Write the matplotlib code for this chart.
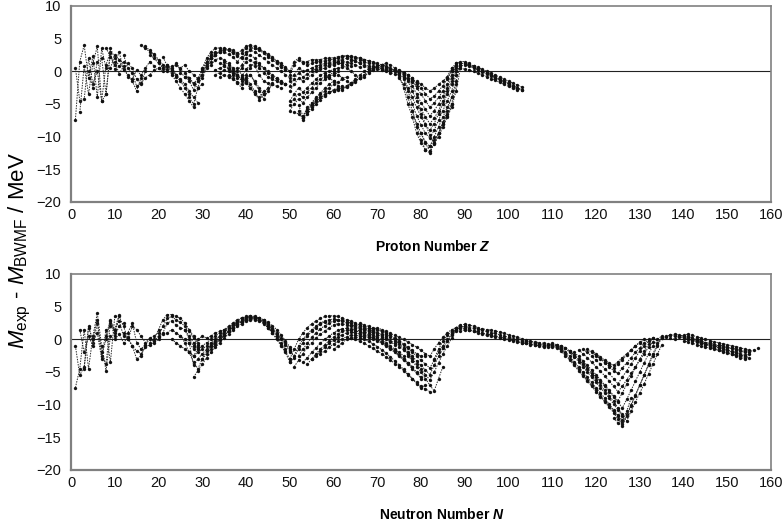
import matplotlib
matplotlib.use("Agg")
import matplotlib.pyplot as plt
import numpy as np

plt.rcParams['font.family'] = ['Liberation Sans', 'DejaVu Sans']
plt.rcParams['mathtext.fontset'] = 'custom'
plt.rcParams['mathtext.rm'] = 'Liberation Sans'
plt.rcParams['mathtext.it'] = 'Liberation Sans:italic'
plt.rcParams['mathtext.bf'] = 'Liberation Sans:bold'
plt.rcParams['mathtext.bfit'] = 'Liberation Sans:italic:bold'

# mass residuals M_exp - M_BWMF (MeV); each chain is (first x, [values at x, x+1, ...])
# ---- against proton number Z ----
z_light = [
    (1, [-7.4, 1.5, 4.0, -1.0, 2.3, -4.0, 3.5, 0.5]),
    (1, [0.5, -4.5, -4.3, 2.0, -2.0, 0.0, -4.5, 1.0, 3.0]),
    (2, [-6.3, 0.8, -3.5, 1.2, 3.8, -4.6, -3.5, 2.8, 0.3]),
    (4, [0.0, -2.5, 1.5, 2.0, -3.5, 3.5, 2.0, 0.8, 1.5]),
    (8, [3.6, 2.2, 1.0, 3.0, 0.2, -0.5, -1.5, -3.0, -1.0]),
    (9, [0.5, 2.5, 1.8, 0.3, 1.2, 0.5, -1.2, -2.0, 0.0]),
    (10, [1.5, -0.4, 0.8, -0.8, -1.2, 0.2, -0.6, 0.5, 1.5, 0.8]),
    (12, [2.5, 0.5, -0.3, -2.3, -1.8, -1.0, -0.5, 0.2, 0.5]),
]
z_sd = [
    (16, [4.0, 3.5, 3.0, 2.5, 1.5, 0.5, 0.0]),
    (17, [3.8, 3.2, 2.6, 1.8, 1.0, 0.3, -0.3]),
    (18, [2.5, 2.0, 1.2, 0.5, 0.8, 0.2, -0.5]),
    (21, [2.2, 0.8, -0.5, -1.5, -2.5, -3.5, -4.5, -5.5]),
    (22, [1.0, 0.5, -0.5, -1.2, -2.0, -3.0, -4.0, -4.8]),
    (20, [0.5, 0.0, 1.0, 0.2, -0.8, -1.5, -2.5, -3.5]),
    (23, [0.8, 1.0, 0.3, -0.3, -1.0, -1.8, -2.5, -2.0]),
    (24, [1.2, 0.5, 1.0, 0.0, -0.5, -1.2, -0.5, 1.0]),
    (27, [-4.0, -5.0, -2.5, -0.5, 1.2, 2.5, 3.0]),
    (26, [-0.8, -1.5, -2.8, -1.5, 0.0, 1.5, 2.5]),
    (25, [-0.2, -0.8, -1.0, -2.0, -1.0, 0.3, 1.5, 2.0]),
]
z_mid = [
    (30, [0.5, 2.0, 3.0, 3.5, 3.6, 3.5, 3.4, 3.2, 2.8, 3.2, 3.8, 4.0, 3.8,
          3.5, 3.0, 2.5, 2.0, 1.5, 1.0, 0.5, 0.0]),
    (31, [0.8, 2.0, 2.8, 3.0, 3.0, 2.6, 2.2, 1.5, 2.2, 3.0, 3.2, 3.0, 2.5,
          2.0, 1.5, 1.0, 0.5, 0.0, -0.5, -1.0]),
    (32, [1.0, 1.8, 2.0, 1.8, 1.2, 0.5, 0.0, 1.0, 2.0, 2.5, 2.0, 1.0, 0.5,
          0.0, -0.5, -1.0, -1.5, -2.0]),
    (33, [0.2, 0.5, 0.8, 0.3, -0.5, -1.0, -0.8, 0.3, 1.0, 0.8, -0.5, -1.5,
          -1.8, -2.0, -2.3, -2.5]),
    (34, [-0.8, -0.5, -0.8, -1.2, -1.6, -2.0, -1.0, -0.5, -1.8, -3.0, -4.2,
          -3.0, -2.0]),
    (38, [0.5, -0.5, -1.5, -2.5, -3.3, -4.4, -3.5]),
    (35, [1.5, 1.0, 0.3, -0.5, -1.5, -1.0, -2.0, -3.0]),
    (30, [-1.0, 0.5, 1.5, 2.5, 3.0, 3.2, 3.3, 3.0, 2.5, 2.8, 3.5, 3.8, 3.5,
          3.2, 2.8, 2.2, 1.8, 1.2, 0.6, 0.2]),
    (32, [2.0, 2.5, 3.2, 3.4, 3.2, 2.8, 2.4, 2.0, 2.6, 3.4, 3.6, 3.4, 3.0,
          2.6, 2.2, 1.6, 1.2, 0.6, 0.0]),
    (33, [-0.5, -0.2, 0.2, 0.0, -0.3, -0.6, -1.2, -0.5, 0.5, 1.5, 1.2, 0.5,
          -0.2, -0.8, -1.2, -1.6, -2.0]),
    (36, [-0.5, -1.0, -1.8, -2.5, -1.5, -0.5, -1.5, -2.5, -3.5, -2.5, -1.8]),
    (34, [1.2, 1.0, 0.5, 0.0, -0.5, 0.5, 1.5, 1.8, 1.2, 0.5, -0.2, -0.8,
          -1.2, -1.5, -1.8, -2.0]),
    (39, [-1.0, -1.8, -2.6, -3.4, -4.0, -3.0]),
]
z_heavy = [
    (50, [-0.5, 1.0, 1.8, 1.5, 1.0, 1.2, 1.5, 1.5, 1.6, 1.8, 1.8, 2.0, 2.2,
          2.3, 2.2, 2.0, 1.8, 1.5, 1.2]),
    (50, [-1.5, -0.5, 0.5, 0.0, 0.2, 0.5, 0.8, 1.0, 1.2, 1.3, 1.5, 1.6, 1.8,
          2.0, 1.8, 1.6, 1.2]),
    (50, [-3.0, -2.0, -1.0, -1.5, -1.0, -0.5, 0.0, 0.3, 0.5, 0.8, 1.0, 1.2,
          1.2, 1.0, 0.8]),
    (50, [-4.5, -3.5, -2.5, -3.2, -2.5, -1.8, -1.2, -0.6, -0.2, 0.0, 0.3,
          0.5, 0.6]),
    (50, [-6.0, -5.0, -4.2, -4.8, -4.0, -3.2, -2.5, -1.8, -1.2, -0.8, -0.5]),
    (51, [-6.3, -6.5, -7.0, -5.5, -4.8, -4.0, -3.3, -2.6, -2.0, -1.5]),
    (52, [-6.0, -7.5, -6.5, -5.8, -5.0, -4.4, -3.8, -3.2, -2.8, -2.5, -2.2]),
    (54, [-6.2, -5.5, -4.6, -4.0, -3.6, -3.2, -3.0, -2.8, -2.6, -2.3, -2.0,
          -1.6, -1.0]),
    (60, [0.0, -0.5, -1.0, -1.5, -2.0, -1.5, -1.0, -0.5, 0.0, 0.5, 0.8, 1.0,
          0.8, 0.5, 0.0, -0.3]),
    (62, [1.0, 0.5, 0.0, -0.5, -1.0, -0.8, -0.2, 0.3, 0.8, 1.0, 1.2, 1.0,
          0.5, 0.2, -0.2]),
    (66, [2.0, 1.8, 1.6, 1.4, 1.2, 1.0, 0.7, 0.4, 0.2, 0.0, -0.3, -0.6, -1.0]),
    (67, [1.0, 0.8, 0.8, 0.6, 0.5, 0.3, 0.1, 0.0, -0.3, -0.6, -1.0, -1.3, -1.8]),
    (68, [0.0, 0.2, 0.3, 0.2, 0.0, -0.2, -0.4, -0.6, -0.9, -1.2, -1.6, -2.2]),
    (50, [0.0, 1.5, 2.0, 1.2, 1.5, 1.8, 1.8, 1.8, 2.0, 2.0, 2.1, 2.2, 2.4,
          2.4, 2.3, 2.2, 2.0, 1.8, 1.6, 1.3, 1.0]),
    (50, [-2.2, -1.2, -0.2, -0.8, -0.4, 0.0, 0.4, 0.6, 0.9, 1.0, 1.2, 1.4,
          1.5, 1.4, 1.2, 1.0, 0.6]),
    (50, [-5.2, -4.2, -3.4, -4.0, -3.2, -2.5, -1.8, -1.2, -0.8, -0.5, -0.2, 0.0]),
    (52, [-5.2, -6.8, -5.8, -5.0, -4.2, -3.5, -3.0, -2.5, -2.0, -1.6, -1.2, -0.8]),
    (53, [-7.2, -6.0, -5.2, -4.5, -4.0, -3.5, -3.2, -3.0, -2.7, -2.5, -2.2,
          -1.8, -1.4]),
    (58, [-0.5, -1.0, -1.5, -2.2, -2.8, -2.4, -1.8, -1.2, -0.6, 0.0, 0.4,
          0.6, 0.6, 0.4, 0.2, 0.0]),
    (64, [1.8, 1.6, 1.2, 0.8, 0.5, 0.4, 0.6, 0.8, 0.6, 0.4, 0.2, 0.0, -0.3, -0.6]),
]
z_pb = [
    (75, [-0.8, -2.5, -5.0, -7.0, -9.5, -11.0, -12.0, -12.5, -11.0, -10.0,
          -8.5, -7.0, -5.5, -3.0, 0.5]),
    (75, [-1.0, -2.0, -4.0, -6.0, -8.0, -9.5, -10.8, -11.5, -10.0, -8.5,
          -7.0, -5.5, -4.0, -1.5, 1.0]),
    (76, [-1.2, -3.0, -5.0, -6.8, -8.2, -9.5, -10.2, -9.0, -7.5, -6.0, -4.5,
          -3.0, -0.5, 1.2]),
    (76, [-1.0, -2.5, -4.0, -5.5, -7.0, -8.2, -9.0, -8.0, -6.5, -5.0, -3.5,
          -2.0, 0.0]),
    (77, [-1.5, -3.0, -4.5, -5.8, -7.0, -8.0, -7.2, -6.0, -4.5, -3.0, -1.5, 0.5]),
    (77, [-1.2, -2.2, -3.5, -4.8, -5.8, -6.8, -6.0, -5.0, -3.8, -2.5, -1.0, 1.0]),
    (78, [-1.5, -2.5, -3.5, -4.5, -5.5, -4.8, -4.0, -3.0, -2.0, -0.5, 1.2]),
    (78, [-1.0, -1.8, -2.6, -3.4, -4.2, -3.8, -3.0, -2.2, -1.2, 0.0]),
    (79, [-1.5, -2.0, -2.5, -3.0, -2.6, -2.0, -1.5, -0.8, 0.5]),
    (78, [-6.0, -8.5, -10.5, -12.0, -11.5, -10.5, -9.5, -8.0, -6.5, -5.0]),
    (80, [-9.5, -11.0, -12.2, -11.2, -9.5, -7.8, -6.0, -4.0]),
    (79, [-4.0, -6.5, -8.0, -9.8, -11.0, -9.5, -8.0, -6.8, -5.0, -2.0]),
    (87, [0.5, 1.2, 1.5, 1.5, 1.2, 0.8, 0.5, 0.2, -0.2, -0.5, -0.8, -1.2, -1.5,
          -1.8, -2.2, -2.5, -2.8]),
    (88, [0.0, 0.8, 1.0, 0.8, 0.5, 0.2, -0.1, -0.4, -0.7, -1.0, -1.3, -1.6,
          -2.0, -2.3, -2.6, -2.9]),
    (89, [0.5, 0.3, 0.2, 0.0, -0.3, -0.5, -0.8, -1.1, -1.4, -1.7, -2.0, -2.3,
          -2.6, -2.8]),
    (90, [1.2, 1.0, 0.8, 0.6, 0.3, 0.0, -0.3, -0.6, -0.9, -1.2, -1.5, -1.8,
          -2.1, -2.4]),
    (86, [-1.0, 0.2, 0.8, 1.2, 1.2, 1.0, 0.6, 0.3, 0.0, -0.3, -0.6, -1.0,
          -1.3, -1.6, -1.9, -2.2]),
]

# ---- against neutron number N ----
n_light = [
    (1, [-7.4, -4.5, 1.5, -4.5, 0.5, 4.0, -1.0, -4.8, 0.5]),
    (1, [-1.0, -5.5, -4.2, 2.0, -0.5, 1.0, -3.0, 1.5, -3.5, 3.5]),
    (2, [1.5, -2.0, 0.5, -1.0, 2.5, -2.5, 0.0, 2.8, 1.5, 3.8]),
    (3, [-4.5, 1.8, 0.0, 3.0, -2.0, -3.8, 2.5, 0.5, 2.0, 2.5]),
    (8, [0.5, 3.0, 1.0, 3.5, 2.0, 0.0, -1.0, -3.0, -2.5, -1.0]),
    (9, [2.0, 1.5, 2.8, 0.5, 1.0, 2.5, -0.5, -1.5, -0.8, 0.0]),
    (10, [0.0, 0.8, -0.5, 0.3, -1.0, -1.8, -2.2, -1.2, -0.8, -0.5, 0.0]),
    (12, [1.0, 0.0, 2.0, 1.5, 0.5, -0.5, 0.2, 0.5, 1.0, 0.8]),
]
n_sd = [
    (18, [-0.5, 0.0, 1.5, 3.0, 3.8, 3.8, 3.5, 3.2, 2.5, 1.5, 0.5, -0.5]),
    (19, [-0.3, 0.5, 2.0, 3.2, 3.5, 3.0, 2.6, 2.0, 1.2, 0.2, -0.8]),
    (20, [0.3, 1.0, 2.5, 2.8, 2.2, 1.8, 1.5, 0.5, -0.5, -1.2]),
    (22, [1.0, 1.5, 1.0, 0.5, 0.0, -0.5, -1.5]),
    (23, [0.0, -0.5, -1.0, -1.5, -2.0, -2.5, -1.5]),
]
n_mid = [
    (28, [-5.8, -4.8, -3.8, -2.8, -2.0, -1.2, -0.5, 0.2, 0.8, 1.4, 2.0, 2.4,
          2.8, 3.0, 3.0, 2.8, 2.4, 1.8, 1.0, 0.2, -0.8, -1.8, -3.0]),
    (27, [-0.5, -4.0, -3.0, -2.2, -1.5, -0.8, -0.2, 0.5, 1.0, 1.6, 2.2, 2.6,
          3.0, 3.3, 3.4, 3.3, 3.0, 2.5, 1.8, 1.0, 0.0, -1.0, -2.0, -3.5]),
    (26, [1.5, 0.0, -1.0, -1.5, -1.0, -0.5, 0.0, 0.5, 1.0, 1.5, 2.0, 2.5,
          3.0, 3.3, 3.5, 3.6, 3.5, 3.2, 2.8, 2.2, 1.5, 0.5, -0.5, -1.5]),
    (27, [-2.0, -2.5, -2.0, -1.5, -1.0, -0.5, 0.0, 0.5, 1.2, 1.8, 2.3, 2.8,
          3.2, 3.4, 3.5, 3.4, 3.1, 2.6, 2.0, 1.2]),
    (28, [-1.0, 0.0, 0.5, 0.2, 0.5, 1.0, 1.2, 1.5, 1.8, 2.2, 2.6]),
    (25, [0.5, -0.5, -2.0, -3.5, -4.5, -3.0, -1.8, -1.0, -0.5, 0.0, 0.6, 1.2]),
    (32, [-1.0, -0.5, 0.0, 0.6, 1.2, 1.8, 2.3, 2.7, 3.0, 3.2, 3.3, 3.2, 2.9,
          2.4, 1.8, 1.0, 0.2, -0.6, -1.5]),
    (34, [0.0, 0.7, 1.3, 1.9, 2.4, 2.8, 3.1, 3.3, 3.4, 3.3, 3.0, 2.6, 2.1,
          1.5, 0.7, -0.2, -1.2]),
    (30, [-3.0, -2.2, -1.5, -0.8, -0.1, 0.6, 1.2, 1.8, 2.3, 2.7, 3.0, 3.2,
          3.2, 3.0, 2.7, 2.2, 1.6, 0.8, 0.0, -0.8, -1.8]),
]
n_rare = [
    (50, [-3.0, -1.5, 0.0, 1.0, 1.8, 2.4, 2.8, 3.2, 3.5, 3.6, 3.6, 3.5, 3.2,
          3.0, 2.8, 2.5, 2.2, 2.0, 1.8, 1.6, 1.4, 1.2]),
    (50, [-3.5, -2.8, -1.5, -0.5, 0.5, 1.2, 1.8, 2.3, 2.7, 3.0, 3.1, 3.0,
          2.8, 2.5, 2.2, 2.0, 1.8, 1.6, 1.4, 1.2, 1.0, 0.8, 0.5]),
    (51, [-4.2, -3.2, -2.2, -1.2, -0.5, 0.2, 0.8, 1.3, 1.8, 2.2, 2.4, 2.4,
          2.2, 2.0, 1.8, 1.6, 1.4, 1.2, 1.0, 0.7, 0.4, 0.0, -0.4, -0.8]),
    (53, [-3.5, -2.8, -2.0, -1.3, -0.6, 0.0, 0.5, 1.0, 1.4, 1.6, 1.7, 1.6,
          1.5, 1.3, 1.1, 0.9, 0.6, 0.3, 0.0, -0.5, -1.0, -1.5, -2.0, -2.5]),
    (55, [-3.0, -2.5, -1.8, -1.2, -0.6, -0.1, 0.3, 0.7, 1.0, 1.1, 1.0, 0.8,
          0.6, 0.4, 0.2, 0.0, -0.4, -0.8, -1.3, -1.8, -2.4, -3.0, -3.6, -4.2]),
    (57, [-2.2, -1.8, -1.2, -0.7, -0.3, 0.1, 0.4, 0.6, 0.6, 0.5, 0.4, 0.3,
          0.1, -0.2, -0.6, -1.0, -1.5, -2.0, -2.6, -3.2, -3.8, -4.5, -5.2, -6.0]),
    (64, [0.2, 0.0, -0.3, -0.6, -1.0, -1.4, -1.8, -2.2, -2.7, -3.2, -3.7,
          -4.2, -4.8, -5.4, -6.0, -6.6, -7.2, -7.6, -8.0]),
    (50, [-2.0, -2.5, -1.0, 0.0, 0.8, 1.5, 2.0, 2.5, 2.8]),
    (52, [-2.5, -1.5, -0.6, 0.3, 1.0, 1.6, 2.1, 2.5, 2.8, 2.9, 2.9, 2.7, 2.5,
          2.3, 2.0, 1.8, 1.6, 1.3, 1.0, 0.6, 0.2, -0.2, -0.6, -1.1, -1.6,
          -2.2, -2.8]),
    (54, [-3.8, -3.0, -2.2, -1.5, -0.8, -0.2, 0.3, 0.8, 1.2, 1.4, 1.4, 1.3,
          1.1, 0.9, 0.6, 0.3, 0.0, -0.4, -0.8, -1.3, -1.8, -2.4, -3.0, -3.6,
          -4.3, -5.0, -5.8]),
    (60, [-1.5, -1.0, -0.5, 0.0, 0.2, 0.3, 0.2, 0.0, -0.3, -0.7, -1.1, -1.6,
          -2.1, -2.7, -3.3, -3.9, -4.6, -5.3, -6.0, -6.8, -7.5, -7.0]),
    (66, [2.5, 2.2, 2.0, 1.8, 1.6, 1.3, 1.0, 0.6, 0.2, -0.2, -0.7, -1.2,
          -1.7, -2.2, -2.6, -2.5]),
]
n_heavy = [
    (70, [1.8, 1.5, 1.2, 0.9, 0.6, 0.3, 0.0, -0.4, -0.8, -1.2, -1.7, -2.2,
          -2.6, -1.5, -0.5, 0.3, 1.0, 1.5, 1.8, 2.0, 1.8]),
    (72, [0.8, 0.4, 0.0, -0.4, -0.9, -1.4, -2.0, -2.6, -3.2, -3.8, -4.4,
          -3.2, -2.0, -1.0, 0.0, 0.8, 1.4, 1.7]),
    (74, [-0.2, -0.7, -1.3, -1.9, -2.6, -3.3, -4.0, -4.7, -5.4, -4.0, -2.6,
          -1.4, -0.3, 0.6, 1.2]),
    (76, [-1.5, -2.2, -3.0, -3.8, -4.6, -5.4, -6.2, -5.0, -3.6, -2.2, -1.0, 0.2]),
    (77, [-2.5, -3.3, -4.2, -5.0, -6.0, -7.0, -7.9, -6.0, -4.2]),
    (83, [-3.0, -1.5, -0.3, 0.6, 1.2, 1.6, 1.9, 2.0]),
    (88, [1.8, 2.2, 2.3, 2.2, 2.0, 1.8, 1.6, 1.5, 1.4, 1.3, 1.1, 0.9, 0.7,
          0.5, 0.3, 0.1, -0.1, -0.3, -0.4, -0.5, -0.6, -0.7, -0.8, -0.9, -1.0]),
    (87, [1.0, 1.5, 1.8, 1.6, 1.5, 1.3, 1.2, 1.0, 0.8, 0.7, 0.5, 0.4, 0.2,
          0.0, -0.1, -0.3, -0.5, -0.6, -0.7, -0.8, -0.9, -1.0, -1.1, -1.2,
          -1.3, -1.4]),
    (89, [1.2, 1.5, 1.4, 1.2, 1.0, 0.8, 0.6, 0.5, 0.4, 0.2, 0.0, -0.1, -0.2,
          -0.4, -0.5, -0.6, -0.8, -0.9, -1.0, -1.2]),
    (90, [2.0, 1.8, 1.7, 1.6, 1.4, 1.2, 1.0, 0.9, 0.7, 0.5, 0.3, 0.1, 0.0,
          -0.2, -0.3, -0.4, -0.6, -0.7, -0.8, -0.9, -1.0, -1.1]),
]
n_pb = [
    (110, [-0.8, -1.0, -1.5, -2.2, -3.0, -3.8, -4.6, -5.4, -6.2, -7.0, -7.8,
           -8.6, -9.4, -10.2, -11.0, -11.8, -12.6, -11.0, -9.0]),
    (111, [-1.2, -1.8, -2.5, -3.2, -4.0, -4.8, -5.6, -6.4, -7.2, -8.0, -8.8,
           -9.6, -10.4, -11.2, -12.2, -13.0, -11.5, -10.0, -8.5, -7.0, -5.5,
           -4.0, -2.5, -1.0, 0.2]),
    (114, [-1.8, -2.4, -3.0, -3.7, -4.4, -5.1, -5.8, -6.5, -7.2, -8.0, -8.8,
           -9.6, -10.5, -9.2, -7.8, -6.4, -5.0, -3.6, -2.2, -1.0, 0.0, 0.5]),
    (117, [-1.5, -2.0, -2.6, -3.2, -3.8, -4.5, -5.2, -6.0, -6.8, -5.8, -4.8,
           -3.8, -2.8, -1.8, -1.0, -0.3, 0.2]),
    (118, [-1.5, -2.0, -2.5, -3.0, -3.6, -4.2, -4.8, -5.2, -4.4, -3.6, -2.8,
           -2.0, -1.3, -0.6, 0.0]),
    (119, [-1.8, -2.2, -2.7, -3.2, -3.6, -4.0, -3.4, -2.8, -2.2, -1.6, -1.0,
           -0.5, 0.0]),
    (112, [-1.0, -1.3, -1.8, -2.4, -3.1, -3.8, -4.6, -5.4, -6.2, -7.0, -7.8,
           -8.6, -9.5, -10.5, -11.5]),
    (124, [-12.0, -12.8, -13.2, -11.8, -10.2, -8.6, -7.0, -5.4, -3.8, -2.2,
           -0.8, 0.3]),
    (113, [-1.4, -2.0, -2.7, -3.4, -4.2, -5.0, -5.8, -6.6, -7.4, -8.2, -9.0,
           -9.9, -10.8, -11.8, -12.5, -11.0, -9.6, -8.2, -6.8, -5.3, -3.8,
           -2.3, -0.9]),
    (115, [-2.0, -2.6, -3.3, -4.0, -4.7, -5.4, -6.2, -7.0, -7.8, -8.6, -9.4,
           -8.2, -6.9, -5.6, -4.3, -3.0, -1.8, -0.7, 0.2]),
    (116, [-1.6, -2.2, -2.8, -3.5, -4.2, -4.9, -5.6, -6.4, -7.2, -8.0, -7.2,
           -6.2, -5.2, -4.2, -3.2, -2.2, -1.2, -0.4]),
    (110, [-0.5, -0.9, -1.3, -1.9, -2.6, -3.4, -4.2, -5.0, -5.8, -6.6, -7.4,
           -8.2, -9.0, -9.9, -10.8, -11.6, -12.4]),
    (120, [-2.4, -2.9, -3.4, -3.9, -4.4, -3.8, -3.1, -2.4, -1.7, -1.0, -0.4]),
]
n_act = [
    (134, [-0.5, 0.2, 0.5, 0.6, 0.5, 0.5, 0.6, 0.8, 0.6, 0.4, 0.2, 0.0, -0.2,
           -0.4, -0.5, -0.7, -0.8, -1.0, -1.1, -1.3, -1.5, -1.7]),
    (137, [0.2, 0.0, 0.3, 0.2, 0.0, -0.2, -0.4, -0.5, -0.7, -0.9, -1.0, -1.2,
           -1.4, -1.6, -1.8, -2.0, -2.2, -2.4, -2.3]),
    (140, [-0.2, -0.4, -0.6, -0.8, -1.0, -1.2, -1.3, -1.5, -1.7, -1.9, -2.1,
           -2.3, -2.5, -2.8, -3.0]),
    (141, [0.5, 0.2, 0.0, -0.3, -0.5, -0.6, -0.8, -0.9, -1.0, -1.2, -1.3,
           -1.5, -1.6, -1.8, -2.0, -1.6]),
    (136, [0.4, 0.6, 0.8, 0.7, 0.5, 0.3, 0.1, -0.1, -0.3, -0.5, -0.6, -0.8,
           -1.0, -1.1, -1.3, -1.4, -1.6, -1.8, -2.0]),
    (139, [0.5, 0.3, 0.1, -0.1, -0.3, -0.5, -0.7, -0.9, -1.1, -1.3, -1.5,
           -1.7, -1.9, -2.1, -2.4, -2.6, -2.8]),
    (142, [0.2, -0.2, -0.5, -0.8, -1.1, -1.4, -1.6, -1.8, -2.0, -2.2, -2.4,
           -2.6, -2.8]),
    (157, [-1.4]),
]

x_ticks = np.arange(0, 161, 10)
y_ticks = np.arange(-20, 11, 5)


def draw_panel(ax, groups, xlabel):
    for group in groups:
        for start, vals in group:
            x = np.arange(start, start + len(vals))
            ax.plot(x, vals, linestyle=(0, (1.5, 1.2)), color='#2a2a2a',
                    lw=0.7, marker='o', ms=2.2, mfc='#111', mec='#111',
                    mew=0.2)
    ax.axhline(0, color='#222', lw=0.8, zorder=0)
    ax.set_xlim(0, 160)
    ax.set_ylim(-20, 10)
    ax.set_xticks(x_ticks)
    ax.set_yticks(y_ticks)
    ax.tick_params(length=0, labelsize=10.5, colors='#111')
    ax.tick_params(axis='y', pad=7)
    ax.tick_params(axis='x', pad=4)
    for s in ax.spines.values():
        s.set_color('#808080')
        s.set_linewidth(1.2)
    ax.spines['left'].set_linewidth(1.6)
    ax.spines['bottom'].set_linewidth(1.6)
    ax.set_xlabel(xlabel, fontsize=10, fontweight='bold')


fig = plt.figure(figsize=(7.84, 5.21), dpi=100)
ax_z = fig.add_axes([0.0906, 0.6123, 0.8929, 0.3762])
ax_n = fig.add_axes([0.0906, 0.0979, 0.8929, 0.3762])

draw_panel(ax_z, [z_light, z_sd, z_mid, z_heavy, z_pb],
           r'Proton Number $\mathbfit{Z}$')
draw_panel(ax_n, [n_light, n_sd, n_mid, n_rare, n_heavy, n_pb, n_act],
           r'Neutron Number $\mathbfit{N}$')
ax_z.xaxis.set_label_coords(0.517, -0.19)
ax_n.xaxis.set_label_coords(0.529, -0.19)

fig.text(0.026, 0.52, r'$M_{\rm exp}$ - $M_{\rm BWMF}$ / MeV',
         rotation=90, ha='center', va='center', fontsize=16)

fig.savefig('out.png', dpi=100)
